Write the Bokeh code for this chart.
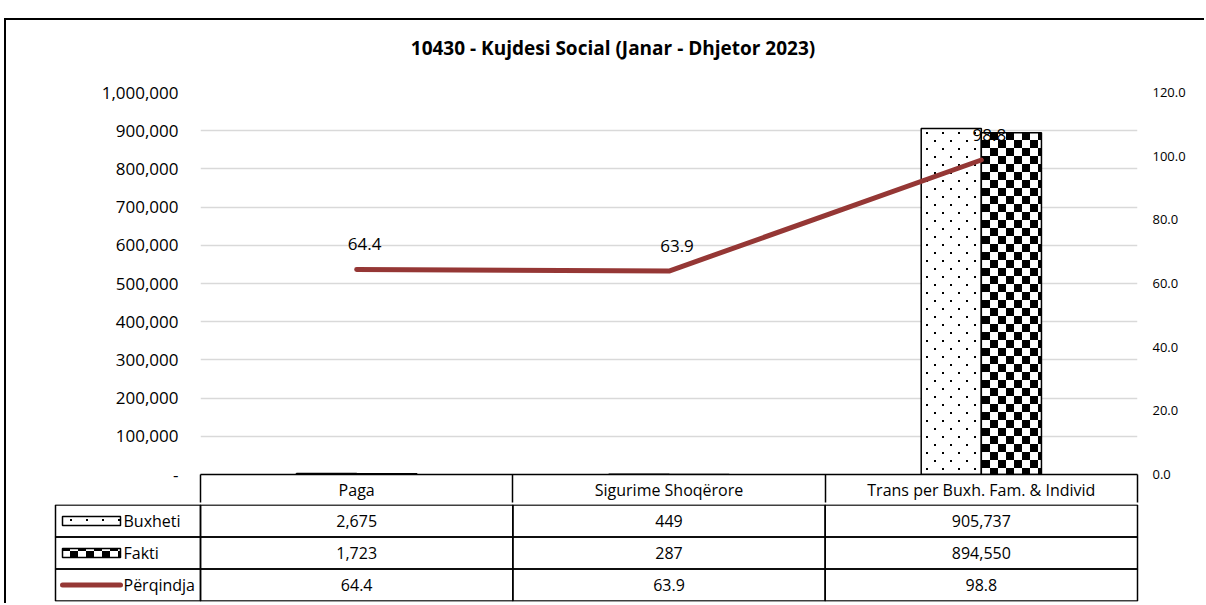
import base64
from bokeh.plotting import figure
from bokeh.models import (Range1d, LinearAxis, FixedTicker, NumeralTickFormatter,
                          ColumnDataSource, ImageURLTexture, Div)
from bokeh.layouts import column
from bokeh.embed import file_html
from bokeh.resources import INLINE
from bokeh.core.properties import value

# ---------------- data ----------------
title_text = "10430 - Kujdesi Social (Janar - Dhjetor 2023)"
categories = ["Paga", "Sigurime Shoqërore", "Trans per Buxh. Fam. & Individ"]
buxheti = [2675, 449, 905737]
fakti = [1723, 287, 894550]
perqindja = [64.4, 63.9, 98.8]
series_names = ["Buxheti", "Fakti", "Përqindja"]
left_ticks = [0, 100000, 200000, 300000, 400000, 500000, 600000, 700000, 800000, 900000, 1000000]
right_ticks = [0, 20, 40, 60, 80, 100, 120]

FONT = "Open Sans"
LINE_COLOR = "#953735"
GRID = "#d9d9d9"


def svg_url(body):
    svg = ('<svg xmlns="http://www.w3.org/2000/svg" width="16" height="16">'
           '<rect width="16" height="16" fill="white"/>' + body + '</svg>')
    return "data:image/svg+xml;base64," + base64.b64encode(svg.encode()).decode()


def dot_tex():
    return ImageURLTexture(url=svg_url(
        '<rect x="0" y="0" width="2" height="2" fill="black"/>'
        '<rect x="8" y="8" width="2" height="2" fill="black"/>'))


def checker_tex():
    return ImageURLTexture(url=svg_url(
        '<rect x="0" y="0" width="8" height="8" fill="black"/>'
        '<rect x="8" y="8" width="8" height="8" fill="black"/>'))


n = len(categories)
xc = [i + 0.5 for i in range(n)]
bw = 0.1925
W = 1198

# ---------------- title ----------------
title_div = Div(text=title_text, width=W, height=56, margin=0,
                styles={"text-align": "center", "font-family": FONT, "font-size": "19px",
                        "font-weight": "bold", "line-height": "56px", "text-indent": "16px",
                        "color": "black", "white-space": "nowrap"})

# ---------------- chart ----------------
p1 = figure(width=W, height=427, x_range=Range1d(0, n), y_range=Range1d(0, 1000000),
            output_backend="svg", toolbar_location=None,
            min_border_left=194, min_border_right=67, min_border_top=16, min_border_bottom=28)
p1.outline_line_color = None
p1.background_fill_color = "white"
p1.border_fill_color = "white"

p1.xgrid.visible = False
p1.ygrid.ticker = FixedTicker(ticks=left_ticks)
p1.ygrid.grid_line_color = GRID
p1.ygrid.grid_line_width = 1.5

ya = p1.yaxis[0]
ya.ticker = FixedTicker(ticks=left_ticks)
ya.formatter = NumeralTickFormatter(format="0,0")
ya.major_label_overrides = {0: "-"}
ya.axis_line_color = None
ya.major_tick_line_color = None
ya.major_tick_out = 0
ya.major_tick_in = 0
ya.minor_tick_line_color = None
ya.major_label_standoff = 22
ya.major_label_text_font = FONT
ya.major_label_text_font_size = "17px"
ya.major_label_text_color = "black"

p1.extra_y_ranges = {"pct": Range1d(0, 120)}
ra = LinearAxis(y_range_name="pct", ticker=FixedTicker(ticks=right_ticks),
                formatter=NumeralTickFormatter(format="0.0"))
ra.axis_line_color = None
ra.major_tick_line_color = None
ra.major_tick_out = 0
ra.major_tick_in = 0
ra.minor_tick_line_color = None
ra.major_label_standoff = 15
ra.major_label_text_font = FONT
ra.major_label_text_font_size = "13px"
ra.major_label_text_color = "black"
p1.add_layout(ra, "right")

xa = p1.xaxis[0]
xa.ticker = FixedTicker(ticks=xc, minor_ticks=list(range(n + 1)))
xa.major_label_overrides = {x: c for x, c in zip(xc, categories)}
xa.axis_line_color = "black"
xa.axis_line_width = 1.5
xa.major_tick_line_color = None
xa.major_tick_out = 0
xa.major_tick_in = 0
xa.minor_tick_line_color = "black"
xa.minor_tick_line_width = 1.5
xa.minor_tick_out = 28
xa.minor_tick_in = 0
xa.major_label_standoff = -24
xa.major_label_text_font = FONT
xa.major_label_text_font_size = "16px"
xa.major_label_text_color = "black"

src = ColumnDataSource(dict(xb=[x - bw / 2 for x in xc], xf=[x + bw / 2 for x in xc],
                            xc=xc, bux=buxheti, fak=fakti, pct=perqindja,
                            lbl=[f"{v:.1f}" for v in perqindja]))
p1.vbar(x="xb", top="bux", width=bw, source=src, fill_color="white",
        line_color="black", line_width=1.5,
        hatch_pattern=value("dots16"), hatch_extra={"dots16": dot_tex()})
p1.vbar(x="xf", top="fak", width=bw, source=src, fill_color="white",
        line_color="black", line_width=1.5,
        hatch_pattern=value("checker16"), hatch_extra={"checker16": checker_tex()})
p1.line(x="xc", y="pct", source=src, y_range_name="pct", line_color=LINE_COLOR,
        line_width=5, line_cap="round", line_join="round")
p1.text(x="xc", y="pct", text="lbl", source=src, y_range_name="pct",
        x_offset=8, y_offset=-25, text_align="center", text_baseline="middle",
        text_font=value(FONT), text_font_size="17px", text_color="black")

# ---------------- data table ----------------
ppu = 937 / n
x0 = -147 / ppu
x1 = n + 2 / ppu
p2 = figure(width=W, height=100, x_range=Range1d(x0, x1), y_range=Range1d(3.015, -0.015),
            output_backend="svg", toolbar_location=None,
            min_border_left=47, min_border_right=65, min_border_top=1, min_border_bottom=2)
p2.axis.visible = False
p2.grid.visible = False
p2.outline_line_color = None
p2.border_fill_color = "white"

for p in (p1, p2):
    if "frame_align" in p.properties():
        p.frame_align = False

rows = [buxheti, fakti, perqindja]
cx, cy, ct = [], [], []
for r, vals in enumerate(rows):
    for c, v in enumerate(vals):
        cx.append(c + 0.5)
        cy.append(r + 0.5)
        ct.append(f"{v:.1f}" if r == 2 else f"{v:,}")
leg_w = 145 / ppu
p2.rect(x=cx, y=cy, width=1, height=1, fill_color=None, line_color="black", line_width=1.5)
p2.rect(x=[-leg_w / 2] * 3, y=[0.5, 1.5, 2.5], width=leg_w, height=1,
        fill_color=None, line_color="black", line_width=1.5)
p2.text(x=cx, y=cy, text=ct, text_align="center", text_baseline="middle",
        text_font=value(FONT), text_font_size="16px", text_color="black")

key_x = -109 / ppu
p2.rect(x=[key_x], y=[0.5], width=58, height=9, width_units="screen", height_units="screen",
        fill_color="white", line_color="black", line_width=1.5,
        hatch_pattern=value("dots16"), hatch_extra={"dots16": dot_tex()})
p2.rect(x=[key_x], y=[1.5], width=58, height=9, width_units="screen", height_units="screen",
        fill_color="white", line_color="black", line_width=1.5,
        hatch_pattern=value("checker16"), hatch_extra={"checker16": checker_tex()})
p2.segment(x0=[-138 / ppu], y0=[2.5], x1=[-80 / ppu], y1=[2.5], line_color=LINE_COLOR,
           line_width=5, line_cap="round")
p2.text(x=[-77 / ppu] * 3, y=[0.5, 1.5, 2.5], text=series_names, text_align="left",
        text_baseline="middle", text_font=value(FONT), text_font_size="16px", text_color="black")

layout = column(title_div, p1, p2, spacing=0,
                styles={"border-left": "2px solid black", "border-top": "2px solid black",
                        "margin-top": "18px", "margin-left": "4px"})

open("out.html", "w").write(file_html(layout, INLINE))
